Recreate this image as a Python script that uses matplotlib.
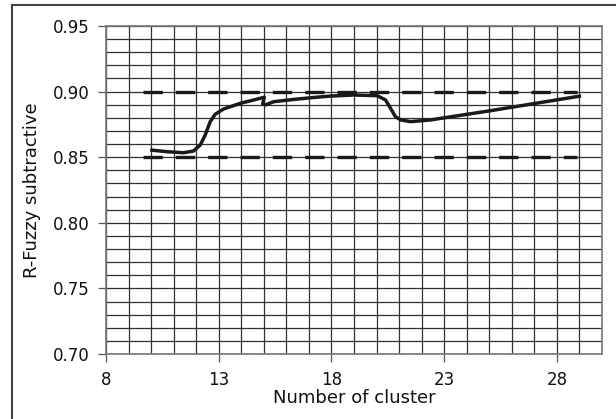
import matplotlib
matplotlib.use("Agg")
import matplotlib.pyplot as plt
from matplotlib.lines import Line2D
import numpy as np

# Data
curve_x = [9.96, 10.7, 11.44, 11.88, 12.18, 12.4, 12.62, 12.84, 13.21, 13.96,
           14.55, 15.02, 14.95, 15.1, 15.44, 16.3, 17.2, 17.96, 18.99, 20.03,
           20.4, 20.62, 20.84, 21.07, 21.51, 22.4, 22.84, 25.0, 29.07]
curve_y = [0.8555, 0.8542, 0.8534, 0.8547, 0.8593, 0.8669, 0.8770, 0.8827, 0.8867, 0.8911,
           0.8936, 0.8957, 0.8905, 0.8900, 0.8923, 0.8940, 0.8955, 0.8966, 0.8974, 0.8969,
           0.8936, 0.8873, 0.8809, 0.8784, 0.8771, 0.8784, 0.8796, 0.8853, 0.8967]
ref_x = [9.63, 28.9]
upper_y = [0.90, 0.90]
lower_y = [0.85, 0.85]
xticks = [8, 13, 18, 23, 28]
yticks = [0.70, 0.75, 0.80, 0.85, 0.90, 0.95]
ytick_labels = ["0.70", "0.75", "0.80", "0.85", "0.90", "0.95"]

plt.rcParams['font.family'] = ['DejaVu Sans']

fig = plt.figure(figsize=(6.16, 4.19), dpi=100)
ax = fig.add_axes([106/616, 1-354/419, (602-106)/616, (354-26)/419])

ax.set_xlim(8, 30)
ax.set_ylim(0.70, 0.95)

# grid
ax.set_xticks(np.arange(8, 31, 1), minor=True)
ax.set_yticks(np.arange(0.70, 0.9501, 0.01), minor=True)
ax.grid(True, which='both', color='#303030', linewidth=0.9)
ax.set_axisbelow(True)
ax.tick_params(which='minor', length=0)

ax.set_xticks(xticks)
ax.set_yticks(yticks)
ax.set_yticklabels(ytick_labels)
ax.tick_params(which='major', length=6, width=0.9, color='#555555',
               labelsize=12, direction='out', labelcolor='#111111')
ax.tick_params(axis='y', pad=5.5)
ax.tick_params(axis='x', pad=6)
for s in ax.spines.values():
    s.set_color('#777777')
    s.set_linewidth(1.2)

ax.plot(ref_x, upper_y, color='#1a1a1a', linewidth=2.4, dashes=(5.8, 3.9),
        dash_capstyle='butt', solid_capstyle='butt')
ax.plot(ref_x, lower_y, color='#1a1a1a', linewidth=2.4, dashes=(5.8, 3.9),
        dash_capstyle='butt', solid_capstyle='butt')
ax.plot(curve_x, curve_y, color='#1a1a1a', linewidth=2.5,
        solid_joinstyle='round', solid_capstyle='butt')

ax.set_xlabel("Number of cluster", fontsize=13, color='#111111')
ax.set_ylabel("R-Fuzzy subtractive", fontsize=13, color='#111111')
ax.xaxis.set_label_coords(0.5, (354-389)/328)
ax.yaxis.set_label_coords((41-106)/496, 0.5)

# outer frame (left and top visible)
fig.add_artist(Line2D([12/616, 12/616], [0, 1-5/419], transform=fig.transFigure,
                      color='#444444', linewidth=1.5))
fig.add_artist(Line2D([12/616, 1], [1-5/419, 1-5/419], transform=fig.transFigure,
                      color='#444444', linewidth=1.5))

fig.savefig("out.png", dpi=100)
